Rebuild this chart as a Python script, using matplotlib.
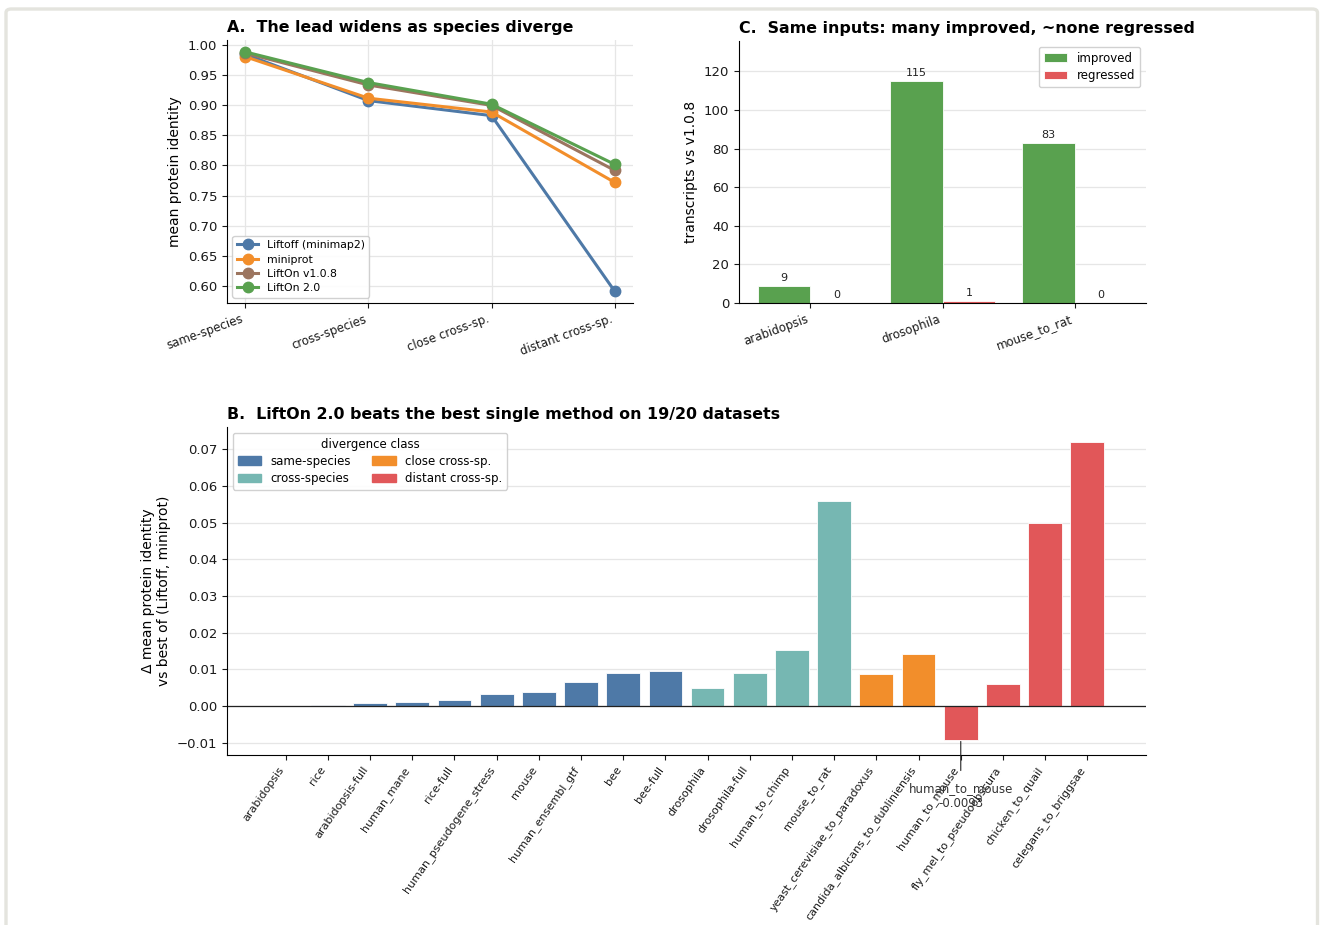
import matplotlib
matplotlib.use("Agg")
import matplotlib.pyplot as plt
from matplotlib.patches import FancyBboxPatch, Patch

# ---- Panel A: mean protein identity by divergence class ----
classes = ["same-species", "cross-species", "close cross-sp.", "distant cross-sp."]
liftoff = [0.985, 0.908, 0.883, 0.591]
miniprot = [0.981, 0.912, 0.889, 0.772]
lifton_v108 = [0.987, 0.934, 0.900, 0.792]
lifton_v2 = [0.989, 0.938, 0.902, 0.802]

# ---- Panel C: transcripts changed vs v1.0.8 ----
c_datasets = ["arabidopsis", "drosophila", "mouse_to_rat"]
improved = [9, 115, 83]
regressed = [0, 1, 0]

# ---- Panel B: per-dataset gain over best single method ----
b_datasets = [
    "arabidopsis", "rice", "arabidopsis-full", "human_mane", "rice-full",
    "human_pseudogene_stress", "mouse", "human_ensembl_gtf", "bee", "bee-full",
    "drosophila", "drosophila-full", "human_to_chimp", "mouse_to_rat",
    "yeast_cerevisiae_to_paradoxus", "candida_albicans_to_dubliniensis",
    "human_to_mouse", "fly_mel_to_pseudoobscura", "chicken_to_quail",
    "celegans_to_briggsae",
]
b_delta = [
    0.0000, 0.0004, 0.0007, 0.0011, 0.0017,
    0.0032, 0.0037, 0.0065, 0.0091, 0.0095,
    0.0050, 0.0091, 0.0153, 0.0560,
    0.0087, 0.0142,
    -0.0093, 0.0061, 0.0498, 0.0720,
]
b_class = (["same-species"] * 10 + ["cross-species"] * 4
           + ["close cross-sp."] * 2 + ["distant cross-sp."] * 4)

class_colors = {
    "same-species": "#4e79a7",
    "cross-species": "#76b7b2",
    "close cross-sp.": "#f28e2b",
    "distant cross-sp.": "#e15759",
}
method_colors = {
    "Liftoff (minimap2)": "#4e79a7",
    "miniprot": "#f28e2b",
    "LiftOn v1.0.8": "#9c755f",
    "LiftOn 2.0": "#59a14f",
}

W, H = 1320, 925
fig = plt.figure(figsize=(W / 100, H / 100), dpi=100)
fig.patch.set_facecolor("white")

# thin light frame around the figure
frame = FancyBboxPatch((6 / W, -0.05), (1317.5 - 6) / W, (H - 9) / H + 0.05,
                       boxstyle="round,pad=0,rounding_size=0.004",
                       transform=fig.transFigure, fill=False,
                       edgecolor="#e4e4de", linewidth=2.4, zorder=-1)
fig.patches.append(frame)


def px_axes(left, top, right, bottom):
    return fig.add_axes([left / W, 1 - bottom / H, (right - left) / W, (bottom - top) / H])


def clean(ax):
    ax.spines["top"].set_visible(False)
    ax.spines["right"].set_visible(False)
    ax.tick_params(labelsize=9.5, colors="#1a1a1a")


title_kw = dict(fontsize=11.4, fontweight="bold", loc="left", pad=6)
grid_kw = dict(color="#e6e6e6", linewidth=0.9)

# ---------------- Panel A ----------------
axA = px_axes(227, 40, 633, 303)
clean(axA)
x = range(len(classes))
for name, vals in [("Liftoff (minimap2)", liftoff), ("miniprot", miniprot),
                   ("LiftOn v1.0.8", lifton_v108), ("LiftOn 2.0", lifton_v2)]:
    axA.plot(x, vals, marker="o", markersize=7.5, linewidth=2.2,
             color=method_colors[name], label=name)
axA.set_xticks(list(x))
axA.set_xticklabels(classes, rotation=20, ha="right", fontsize=8.5)
axA.set_ylabel("mean protein identity", fontsize=10)
axA.grid(True, **grid_kw)
axA.set_axisbelow(True)
axA.set_title("A.  The lead widens as species diverge", **title_kw)
axA.legend(loc="lower left", fontsize=7.8, framealpha=0.9, edgecolor="#cccccc",
           handlelength=2.0, borderpad=0.4, labelspacing=0.4)

# ---------------- Panel C ----------------
axC = px_axes(739, 41, 1146, 303)
clean(axC)
bw = 0.4
xi = list(range(len(c_datasets)))
b1 = axC.bar([i - bw / 2 for i in xi], improved, bw, color="#59a14f",
             edgecolor="white", linewidth=0.6, label="improved")
b2 = axC.bar([i + bw / 2 for i in xi], regressed, bw, color="#e15759",
             edgecolor="white", linewidth=0.6, label="regressed")
axC.bar_label(b1, padding=2, fontsize=8, color="#222222")
axC.bar_label(b2, padding=2, fontsize=8, color="#222222")
axC.set_xticks(xi)
axC.set_xticklabels(c_datasets, rotation=20, ha="right", fontsize=8.5)
axC.set_ylim(0, max(improved) * 1.18)
axC.set_ylabel("transcripts vs v1.0.8", fontsize=10)
axC.yaxis.grid(True, **grid_kw)
axC.set_axisbelow(True)
axC.set_title("C.  Same inputs: many improved, ~none regressed", **title_kw)
axC.legend(loc="upper right", fontsize=8.5, framealpha=0.9, edgecolor="#cccccc",
           borderpad=0.4, labelspacing=0.4)

# ---------------- Panel B ----------------
axB = px_axes(227, 427, 1146, 755)
clean(axB)
xb = list(range(len(b_datasets)))
axB.bar(xb, b_delta, 0.8, color=[class_colors[c] for c in b_class],
        edgecolor="white", linewidth=0.6)
axB.axhline(0, color="#222222", linewidth=0.9)
axB.set_xticks(xb)
axB.set_xticklabels(b_datasets, rotation=55, ha="right", fontsize=8)
axB.set_ylabel("Δ mean protein identity\nvs best of (Liftoff, miniprot)", fontsize=10)
axB.yaxis.grid(True, **grid_kw)
axB.set_axisbelow(True)
axB.set_title("B.  LiftOn 2.0 beats the best single method on 19/20 datasets", **title_kw)

handles = [Patch(color=class_colors[c], label=c) for c in class_colors]
axB.legend(handles=handles, title="divergence class", ncol=2, loc="upper left",
           fontsize=8.5, title_fontsize=8.5, framealpha=0.9, edgecolor="#cccccc",
           columnspacing=1.8, borderpad=0.4, labelspacing=0.35)

# call out the only regression
neg = min(range(len(b_delta)), key=lambda i: b_delta[i])
axB.annotate(f"{b_datasets[neg]}\n{b_delta[neg]:.4f}", xy=(neg, b_delta[neg]),
             xytext=(0, -40), textcoords="offset points", ha="center", va="center",
             fontsize=8.5, color="#333333", annotation_clip=False,
             arrowprops=dict(arrowstyle="-", color="#222222", lw=0.8, shrinkA=6, shrinkB=1))

fig.savefig("out.png", dpi=100, facecolor=fig.get_facecolor())
